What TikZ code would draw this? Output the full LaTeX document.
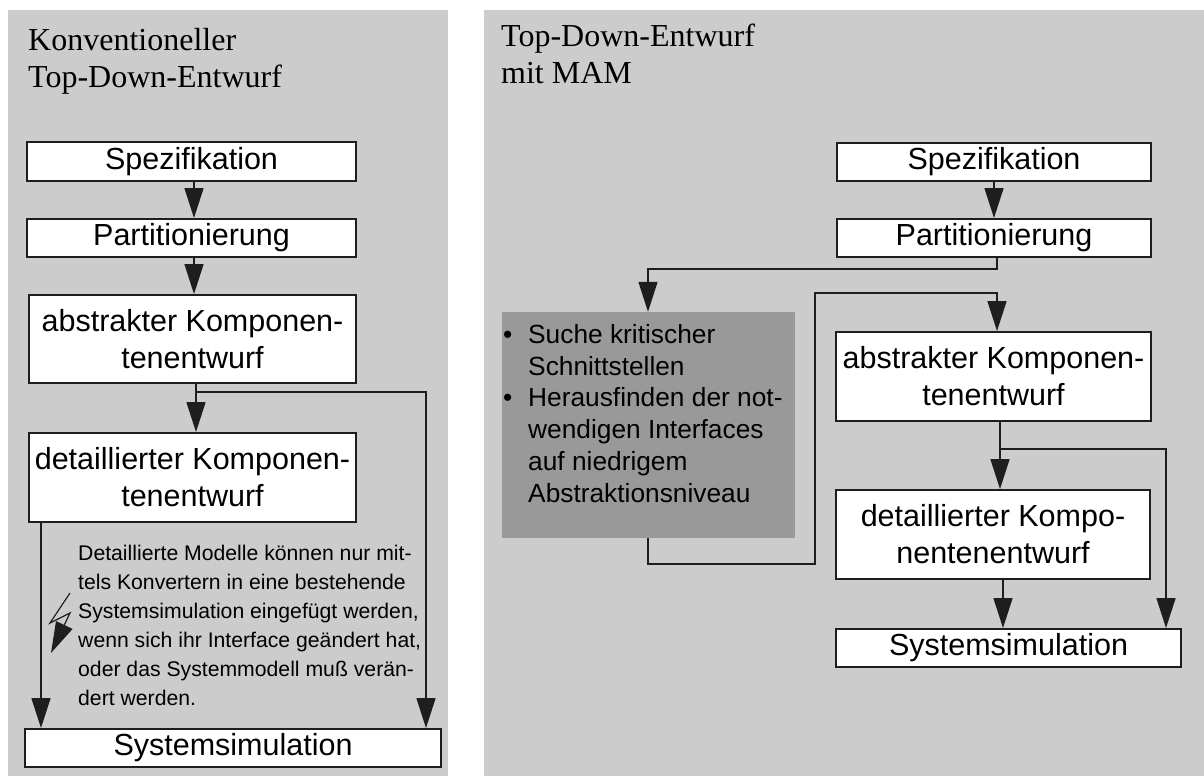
\documentclass[tikz,border=0pt]{standalone}
\usepackage{fontspec}
\setmainfont{Liberation Serif}
\setsansfont{Liberation Sans}
\usetikzlibrary{arrows.meta}
\definecolor{panelgray}{HTML}{CCCCCC}
\definecolor{darkgray}{HTML}{999999}
\definecolor{linec}{HTML}{1E1E1E}
\begin{document}
\begin{tikzpicture}[x=1pt,y=1pt,
  panel/.style={fill=panelgray,draw=none},
  title/.style={anchor=base west,inner sep=0pt,font=\rmfamily\fontsize{32}{37}\selectfont,align=left},
  stepbox/.style={draw=linec,line width=1.9pt,fill=white,inner sep=0pt,
    font=\sffamily\fontsize{30.5}{37}\selectfont,align=center},
  conn/.style={draw=linec,line width=1.5pt},
  arr/.style={conn,-{Triangle[length=30pt,width=19pt]}},
  notetext/.style={anchor=north west,inner sep=0pt,align=left,
    font=\sffamily\fontsize{21.2}{29}\selectfont},
  darkbox/.style={fill=darkgray,draw=none,inner sep=0pt},
  darktext/.style={anchor=north west,inner sep=0pt,align=left,
    font=\sffamily\fontsize{26.3}{31.8}\selectfont}
]
\useasboundingbox (0,0) rectangle (1204,-776);
% panels
\fill[panel] (8,-10) rectangle (448,-776);
\fill[panel] (484,-10) rectangle (1204,-776);

% titles
\node[title] (tL1) at (28,-51) {Konventioneller};
\node[title] (tL2) at (28,-87) {Top-Down-Entwurf};
\node[title] (tR1) at (501,-47) {Top-Down-Entwurf};
\node[title] (tR2) at (501,-84) {mit MAM};

% left column
\node[stepbox,minimum width=329pt,minimum height=39pt] (spL) at (191.5,-161.5) {Spezifikation};
\node[stepbox,minimum width=329pt,minimum height=38pt] (paL) at (191.5,-238) {Partitionierung};
\node[stepbox,minimum width=327pt,minimum height=88pt] (abL) at (192.5,-339) {abstrakter Komponen-\\tenentwurf};
\node[stepbox,minimum width=327pt,minimum height=89pt] (deL) at (192.5,-477.5) {detaillierter Komponen-\\tenentwurf};
\node[stepbox,minimum width=416pt,minimum height=38pt] (syL) at (233,-748) {Systemsimulation};

\draw[arr] (194,0 |- spL.south) -- (194,0 |- paL.north);
\draw[arr] (194,0 |- paL.south) -- (194,0 |- abL.north);
\draw[arr] (196,0 |- abL.south) -- (196,0 |- deL.north);
\coordinate (brL) at (196,-392);
\draw[arr] (brL) -- (426,-392) -- (426,0 |- syL.north);
\draw[arr] (41,0 |- deL.south) -- (41,0 |- syL.north);

\node[notetext] (note) at (78,-544.5) {Detaillierte Modelle können nur mit-\\tels Konvertern in eine bestehende\\Systemsimulation eingefügt werden,\\wenn sich ihr Interface geändert hat,\\oder das Systemmodell muß verän-\\dert werden.};

% lightning
\draw[linec,line width=1.2pt,-{Triangle[length=31pt,width=18pt]}] (70,-593) -- (50,-623) -- (70,-613) -- (51,-653);

% right column
\node[stepbox,minimum width=314pt,minimum height=38pt] (spR) at (994,-162) {Spezifikation};
\node[stepbox,minimum width=314pt,minimum height=38pt] (paR) at (994,-238) {Partitionierung};
\node[stepbox,minimum width=315pt,minimum height=89pt] (abR) at (993.5,-376.5) {abstrakter Komponen-\\tenentwurf};
\node[stepbox,minimum width=314pt,minimum height=89pt] (deR) at (993,-534.5) {detaillierter Kompo-\\nentenentwurf};
\node[stepbox,minimum width=345pt,minimum height=38pt] (syR) at (1008.5,-648) {Systemsimulation};
\node[darkbox,minimum width=293pt,minimum height=226pt] (dark) at (648.5,-425) {};
\node[darktext] (darkt) at (503,-324) {\makebox[25pt][l]{\textbullet}Suche kritischer\\
\makebox[25pt][l]{}Schnittstellen\\
\makebox[25pt][l]{\textbullet}Herausfinden der not-\\
\makebox[25pt][l]{}wendigen Interfaces\\
\makebox[25pt][l]{}auf niedrigem\\
\makebox[25pt][l]{}Abstraktionsniveau};

\draw[arr] (994,0 |- spR.south) -- (994,0 |- paR.north);
\draw[arr] (997,0 |- paR.south) -- (997,-269) -- (648,-269) -- (648,0 |- dark.north);
\draw[arr] (648,0 |- dark.south) -- (648,-564) -- (815,-564) -- (815,-293) -- (997,-293) -- (997,0 |- abR.north);
\draw[arr] (1000,0 |- abR.south) -- (1000,0 |- deR.north);
\coordinate (brR) at (1000,-449);
\draw[arr] (brR) -- (1166,-449) -- (1166,0 |- syR.north);
\draw[arr] (1003,0 |- deR.south) -- (1003,0 |- syR.north);
\end{tikzpicture}
\end{document}
